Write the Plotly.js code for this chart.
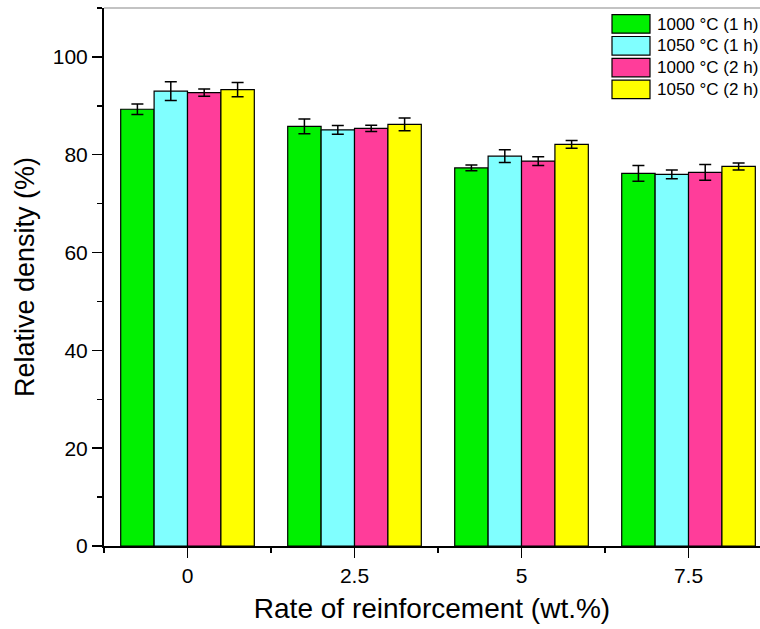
<!DOCTYPE html>
<html>
<head>
<meta charset="utf-8">
<script src="https://cdn.plot.ly/plotly-3.0.1.min.js"></script>
<style>
html,body{margin:0;padding:0;background:#fff;overflow:hidden;}
#chart{width:760px;height:629px;}
</style>
</head>
<body>
<div id="chart"></div>
<script>
// Data
const categories = [0, 2.5, 5, 7.5];
const seriesNames = ['1000 °C (1 h)', '1050 °C (1 h)', '1000 °C (2 h)', '1050 °C (2 h)'];
const density_1000_1h = [89.3, 85.8, 77.3, 76.2];
const error_1000_1h   = [1.05, 1.5, 0.6, 1.6];
const density_1050_1h = [93.0, 85.1, 79.7, 76.0];
const error_1050_1h   = [1.9, 0.9, 1.3, 0.9];
const density_1000_2h = [92.7, 85.4, 78.7, 76.4];
const error_1000_2h   = [0.75, 0.65, 0.9, 1.6];
const density_1050_2h = [93.3, 86.2, 82.1, 77.6];
const error_1050_2h   = [1.45, 1.3, 0.8, 0.7];

const colors = ['#00f000', '#80ffff', '#ff3d9a', '#ffff00'];
const values = [density_1000_1h, density_1050_1h, density_1000_2h, density_1050_2h];
const errors = [error_1000_1h, error_1050_1h, error_1000_2h, error_1050_2h];

const FONT = 'Arial, "Liberation Sans", sans-serif';

const traces = values.map((v, i) => ({
  type: 'bar',
  name: seriesNames[i],
  x: categories,
  y: v,
  marker: {color: colors[i], line: {color: '#000', width: 1.2}},
  error_y: {type: 'data', array: errors[i], visible: true, color: '#000', thickness: 1.5, width: 6},
  showlegend: false
}));

// custom legend (large swatches) built from the series arrays
const plotL = 104, plotR = 760, plotT = 8, plotB = 545.7;
const pw = plotR - plotL, ph = plotB - plotT;
const px2x = p => (p - plotL) / pw;
const py2y = p => (plotB - p) / ph;
const shapes = [
  {type: 'line', xref: 'paper', yref: 'paper', x0: 0, x1: 1, y0: 1, y1: 1,
   line: {color: '#888', width: 1.2}}
];
const annotations = [];
seriesNames.forEach((name, i) => {
  const top = 14.7 + i * 21.8;
  shapes.push({type: 'rect', xref: 'paper', yref: 'paper',
    x0: px2x(612), x1: px2x(650), y0: py2y(top + 18.5), y1: py2y(top),
    fillcolor: colors[i], line: {color: '#000', width: 1.2}});
  annotations.push({xref: 'paper', yref: 'paper', x: px2x(655), y: py2y(top + 9.3),
    xanchor: 'left', yanchor: 'middle', showarrow: false, text: name,
    font: {family: FONT, size: 17, color: '#000'}});
});

const layout = {
  width: 760, height: 629,
  margin: {l: 104, r: 0, t: 8, b: 629 - 545.7},
  paper_bgcolor: '#fff', plot_bgcolor: '#fff',
  barmode: 'group', bargap: 0.2, bargroupgap: 0,
  font: {family: FONT, color: '#000'},
  xaxis: {
    range: [-1.25, 8.57], tickmode: 'linear', tick0: 0, dtick: 2.5,
    showgrid: false, zeroline: false, showline: true, linecolor: '#000', linewidth: 1.5,
    ticks: 'outside', ticklen: 10, tickwidth: 1.5, tickcolor: '#000',
    minor: {ticks: 'outside', ticklen: 5, tickwidth: 1.5, tickcolor: '#000', tick0: 0, dtick: 1.25, showgrid: false},
    tickfont: {family: FONT, size: 21, color: '#000'},
    title: {text: 'Rate of reinforcement (wt.%)', font: {family: FONT, size: 28, color: '#000'}, standoff: 12}
  },
  yaxis: {
    range: [0, 110], tickmode: 'linear', tick0: 0, dtick: 20,
    showgrid: false, zeroline: false, showline: true, linecolor: '#000', linewidth: 2,
    ticks: 'outside', ticklen: 10, tickwidth: 1.5, tickcolor: '#000',
    minor: {ticks: 'outside', ticklen: 5, tickwidth: 1.5, tickcolor: '#000', tick0: 0, dtick: 10, showgrid: false},
    tickfont: {family: FONT, size: 21, color: '#000'},
    title: {text: 'Relative density (%)', font: {family: FONT, size: 27, color: '#000'}, standoff: 10}
  },
  shapes: shapes,
  annotations: annotations
};

Plotly.newPlot('chart', traces, layout, {displayModeBar: false, staticPlot: true});
</script>
</body>
</html>
